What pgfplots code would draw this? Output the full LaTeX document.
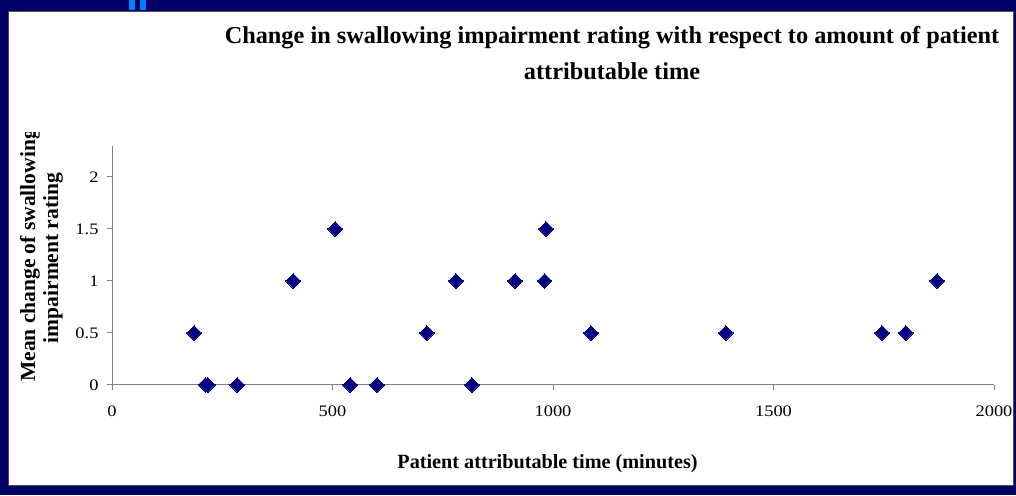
\documentclass[border=0pt]{standalone}
\usepackage{fontspec}
\setmainfont{Liberation Serif}
\newfontfamily\tickfont[FakeStretch=1.15]{Liberation Serif}
\usepackage{pgfplots}
\pgfplotsset{compat=1.18}
\definecolor{bordernavy}{RGB}{0,0,102}
\definecolor{marknavy}{RGB}{0,0,128}
\definecolor{axisgray}{RGB}{128,128,128}
\definecolor{tabblue}{RGB}{0,128,255}
\begin{document}
\begin{tikzpicture}[x=1pt,y=1pt]
\path[use as bounding box] (0,0) rectangle (1016,495);
\fill[bordernavy] (0,0) rectangle (1016,495);
\fill[tabblue] (129,485) rectangle (135,495);
\fill[tabblue] (140,485) rectangle (146,495);
\fill[white,draw=black!70,line width=0.8pt] (8,10) rectangle (1013,484);
\begin{axis}[
  at={(112pt,110pt)}, anchor=south west,
  scale only axis, width=882pt, height=239.2pt,
  xmin=0, xmax=2000, ymin=0, ymax=2.3,
  axis x line=bottom, axis y line=left,
  axis line style={draw=axisgray, line width=1pt, -},
  xtick={0,500,1000,1500,2000},
  ytick={0,0.5,1,1.5,2},
  tick align=outside, major tick length=5pt,
  tick style={draw=axisgray, line width=1pt},
  /pgf/number format/assume math mode=true,
  /pgf/number format/1000 sep={},
  ticklabel style={font=\fontsize{16}{19}\tickfont, text=black},
  xticklabel style={anchor=base, yshift=-26.5pt},
  yticklabel style={xshift=-5pt},
  clip=false,
]
\addplot[only marks, mark=square*, mark size=5.2pt,
  mark options={rotate=45, fill=marknavy, draw=marknavy, line width=0pt}]
  coordinates {
  (186,0.5) (212,0) (217,0) (284,0) (411,1) (506,1.5) (540,0) (601,0)
  (714,0.5) (780,1) (816,0) (914,1) (981,1) (984,1.5) (1086,0.5)
  (1392,0.5) (1746,0.5) (1800,0.5) (1871,1)
  };
\end{axis}
\node[anchor=base, font=\fontsize{24.3}{28}\selectfont\bfseries, inner sep=0] at (612,451.7)
  {Change in swallowing impairment rating with respect to amount of patient};
\node[anchor=base, font=\fontsize{24.3}{28}\selectfont\bfseries, inner sep=0] at (612,415.7)
  {attributable time};
\node[anchor=base, font=\fontsize{20.2}{24}\selectfont\bfseries, inner sep=0] at (547.5,26.7)
  {Patient attributable time (minutes)};
\begin{scope}
\clip (8,10) rectangle (1013,362);
\node[anchor=base west, rotate=90, font=\fontsize{21.5}{25}\selectfont\bfseries, inner sep=0] at (35,113)
  {Mean change of swallowing};
\end{scope}
\node[anchor=base, rotate=90, font=\fontsize{21.5}{25}\selectfont\bfseries, inner sep=0] at (58,237)
  {impairment rating};
\end{tikzpicture}
\end{document}
